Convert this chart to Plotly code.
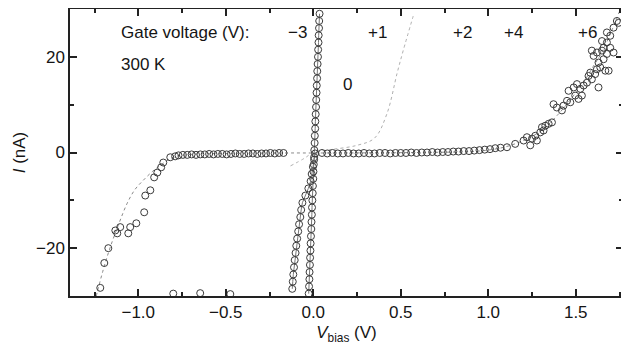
import plotly.graph_objects as go

# ---- data (V in volts, I in nA) ----
# wide-gap curve: negative branch
v_wide_neg = [-1.217, -1.194, -1.171, -1.131, -1.120, -1.103, -1.057, -1.046, -1.011,
              -0.966, -0.960, -0.931, -0.909, -0.891, -0.869, -0.857, -0.817, -0.789]
i_wide_neg = [-28.3, -23.1, -20.0, -16.3, -16.9, -15.6, -16.9, -15.6, -14.8,
              -12.5, -9.0, -7.9, -5.2, -4.2, -3.1, -2.1, -1.0, -0.8]
# flat region left of zero
v_flat_left = [-0.77, -0.745, -0.72, -0.695, -0.67, -0.645, -0.62, -0.595, -0.57, -0.545,
               -0.52, -0.495, -0.47, -0.445, -0.42, -0.395, -0.37, -0.345, -0.32, -0.295,
               -0.27, -0.245, -0.22, -0.195, -0.17]
i_flat_left = [-0.6, -0.5, -0.5, -0.4, -0.5, -0.4, -0.4, -0.3, -0.4, -0.3,
               -0.3, -0.4, -0.3, -0.2, -0.3, -0.3, -0.2, -0.2, -0.3, -0.2,
               -0.2, -0.1, -0.2, -0.1, -0.1]
# flat region right of zero
v_flat_right = [0.05, 0.08, 0.11, 0.14, 0.17, 0.20, 0.23, 0.26, 0.29, 0.32, 0.35, 0.38,
                0.41, 0.44, 0.47, 0.50, 0.53, 0.56, 0.59, 0.62, 0.65, 0.68, 0.71, 0.74,
                0.77, 0.80, 0.83, 0.86, 0.89, 0.92, 0.95, 0.98, 1.01, 1.04, 1.07]
i_flat_right = [-0.1, -0.2, -0.1, -0.2, -0.2, -0.1, -0.2, -0.2, -0.1, -0.2, -0.2, -0.1,
                -0.1, -0.2, -0.1, -0.1, -0.1, 0.0, -0.1, 0.0, 0.0, 0.1, 0.0, 0.1,
                0.1, 0.2, 0.2, 0.3, 0.3, 0.4, 0.5, 0.6, 0.7, 0.9, 1.0]
# wide-gap curve: positive branch (scattered)
v_wide_pos = [1.107, 1.154, 1.202, 1.221, 1.250, 1.269, 1.297, 1.307, 1.326, 1.345, 1.364,
              1.316, 1.278, 1.240, 1.373, 1.392, 1.421, 1.430, 1.450, 1.469, 1.459, 1.488,
              1.507, 1.526, 1.545, 1.564, 1.497, 1.535, 1.516, 1.573, 1.583, 1.592, 1.611,
              1.621, 1.640, 1.630, 1.602, 1.592, 1.621, 1.650, 1.678, 1.716, 1.659, 1.669,
              1.688, 1.630, 1.650, 1.678, 1.697, 1.678, 1.716, 1.735, 1.745, 1.659, 1.697]
i_wide_pos = [1.1, 1.8, 2.5, 3.2, 2.9, 3.5, 4.2, 5.3, 5.6, 6.0, 6.3,
              4.6, 2.5, 1.5, 10.1, 9.4, 8.8, 9.8, 10.8, 10.5, 12.9, 13.6,
              14.3, 13.3, 14.0, 14.6, 11.9, 11.9, 11.2, 16.0, 16.7, 15.3, 16.4,
              17.4, 17.8, 18.8, 20.2, 21.3, 20.9, 21.3, 20.6, 20.9, 19.5, 17.1,
              17.1, 13.6, 23.3, 23.0, 24.4, 25.1, 26.1, 27.5, 27.1, 21.9, 21.9]
# fit line for the wide-gap curve
v_fit_wide = [-1.24, -1.20, -1.16, -1.11, -1.063, -1.02, -0.971, -0.92, -0.874, -0.80,
              -0.70, -0.50, -0.15, 0.05, 0.60, 0.90, 1.00, 1.10, 1.20, 1.30, 1.40, 1.50,
              1.55, 1.60, 1.65, 1.70, 1.75]
i_fit_wide = [-30.0, -24.5, -19.8, -14.8, -10.6, -7.8, -5.8, -4.0, -2.7, -1.0,
              -0.4, -0.2, -0.1, -0.1, 0.0, 0.2, 0.5, 1.2, 2.5, 4.5, 8.0, 12.5,
              15.0, 18.0, 21.0, 25.0, 29.5]

# gate -3: nearly vertical through origin
i_gm3 = [-29.5, -28.0, -26.5, -25.0, -23.5, -22.0, -20.5, -19.0, -17.5, -16.0, -14.5, -13.0,
         -11.5, -10.0, -8.5, -7.0, -5.5, -4.0, -2.5, -1.0, 0.5, 2.0, 3.5, 5.0, 6.5, 8.0,
         9.5, 11.0, 12.5, 14.0, 15.5, 17.0, 18.5, 20.0, 21.5, 23.0, 24.5, 26.0, 27.5, 29.0]
v_gm3 = [-0.026, -0.024, -0.022, -0.021, -0.019, -0.018, -0.016, -0.015, -0.013, -0.011,
         -0.010, -0.008, -0.007, -0.005, -0.003, -0.002, 0.000, 0.001, 0.003, 0.005,
         0.006, 0.008, 0.009, 0.011, 0.012, 0.014, 0.016, 0.017, 0.019, 0.020,
         0.022, 0.023, 0.025, 0.027, 0.028, 0.030, 0.031, 0.033, 0.034, 0.036]

# gate 0: steep branch bending to the left below zero
i_g0 = [-0.2, -1.5, -3.0, -4.5, -6.0, -7.5, -9.0, -10.5, -12.0, -13.5, -15.0, -16.5,
        -18.0, -19.5, -21.0, -22.5, -24.0, -25.5, -27.0, -28.5]
v_g0 = [0.011, 0.005, -0.002, -0.009, -0.015, -0.028, -0.045, -0.062, -0.069, -0.074,
        -0.081, -0.086, -0.092, -0.097, -0.101, -0.106, -0.110, -0.114, -0.117, -0.120]

# gate +1: faint fit curve
v_g1 = [-0.13, -0.05, 0.0, 0.10, 0.25, 0.35, 0.42, 0.48, 0.514, 0.571]
i_g1 = [-2.8, -1.2, 0.0, 0.6, 1.5, 3.0, 8.0, 16.7, 21.3, 28.5]

# stray data points at the bottom edge (other gate voltages)
v_bottom = [-0.80, -0.646, -0.474]
i_bottom = [-29.5, -29.4, -29.6]

gate_labels = ["\u22123", "+1", "+2", "+4", "+6", "0"]
gate_label_v = [-0.091, 0.366, 0.851, 1.143, 1.566, 0.194]
gate_label_i = [25.0, 25.0, 25.0, 25.0, 25.0, 14.2]

mk = dict(symbol="circle-open", size=7, color="#3a3a3a", line=dict(width=1, color="#3a3a3a"))

fig = go.Figure()
fig.add_trace(go.Scatter(x=v_fit_wide, y=i_fit_wide, mode="lines",
                         line=dict(color="#8a8a8a", width=1, dash="dot", shape="spline")))
fig.add_trace(go.Scatter(x=v_g1, y=i_g1, mode="lines",
                         line=dict(color="#b0b0b0", width=1, dash="dot", shape="spline")))
fig.add_trace(go.Scatter(x=v_gm3, y=i_gm3, mode="lines+markers",
                         line=dict(color="#777", width=1), marker=mk))
fig.add_trace(go.Scatter(x=v_g0, y=i_g0, mode="lines+markers",
                         line=dict(color="#777", width=1), marker=mk))
for vx, iy in [(v_wide_neg, i_wide_neg), (v_flat_left, i_flat_left),
               (v_flat_right, i_flat_right), (v_wide_pos, i_wide_pos), (v_bottom, i_bottom)]:
    fig.add_trace(go.Scatter(x=vx, y=iy, mode="markers", marker=mk))

font = dict(family="Liberation Sans, Arial, sans-serif", size=17, color="#151515")

fig.add_annotation(x=-1.109, y=25.0, text="Gate voltage (V):", showarrow=False,
                   xanchor="left", font=font)
fig.add_annotation(x=-1.109, y=18.5, text="300 K", showarrow=False, xanchor="left", font=font)
for t, vx, iy in zip(gate_labels, gate_label_v, gate_label_i):
    fig.add_annotation(x=vx, y=iy, text=t, showarrow=False, font=font)

axis_common = dict(showline=True, linecolor="#222", linewidth=1.5, mirror="allticks",
                   ticks="inside", ticklen=7, tickwidth=1.5, tickcolor="#222",
                   showgrid=False, zeroline=False, tickfont=font, automargin=False)
fig.update_xaxes(range=[-1.39, 1.77], dtick=0.5, tick0=0, tickformat=".1f",
                 minor=dict(dtick=0.25, ticks="inside", ticklen=4, tickcolor="#222"),
                 title=dict(text="<i>V</i><sub>bias</sub> (V)", font=font, standoff=5),
                 **axis_common)
fig.update_yaxes(range=[-30, 30], dtick=20, tick0=0,
                 minor=dict(dtick=10, ticks="inside", ticklen=4, tickcolor="#222"),
                 title=dict(text="<i>I</i> (nA)", font=font, standoff=6),
                 **axis_common)
# page body adds an 8 px offset, so the figure is drawn 8 px smaller
fig.update_layout(width=621, height=340, showlegend=False,
                  margin=dict(l=62, r=6, t=1, b=52),
                  plot_bgcolor="white", paper_bgcolor="white",
                  separators=".\u2212")
fig.write_html("out.html")
